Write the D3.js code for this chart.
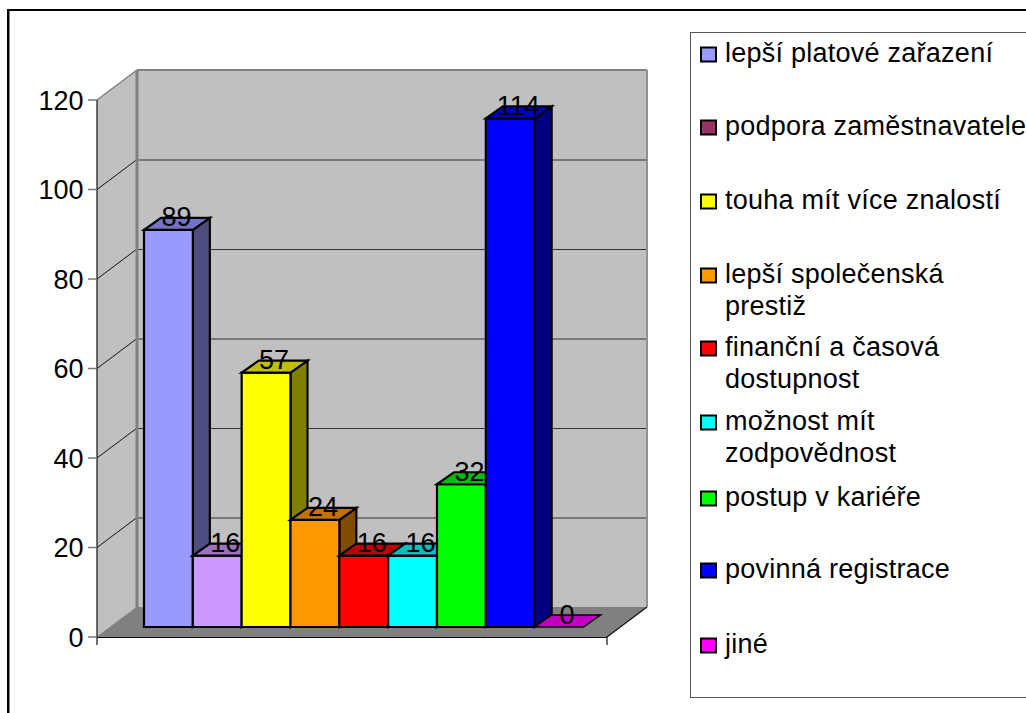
<!DOCTYPE html>
<html><head><meta charset="utf-8">
<script src="https://cdn.jsdelivr.net/npm/d3@7"></script>
<style>html,body{margin:0;padding:0;background:#fff;overflow:hidden}svg{display:block}text{font-family:"Liberation Sans",Arial,sans-serif;fill:#000}</style>
</head><body><svg width="1026" height="713"></svg>
<script>
const categories=["lepší platové zařazení","podpora zaměstnavatele","touha mít více znalostí","lepší společenská prestiž","finanční a časová dostupnost","možnost mít zodpovědnost","postup v kariéře","povinná registrace","jiné"];
const legendLines=[["lepší platové zařazení"],["podpora zaměstnavatele"],["touha mít více znalostí"],["lepší společenská","prestiž"],["finanční a časová","dostupnost"],["možnost mít","zodpovědnost"],["postup v kariéře"],["povinná registrace"],["jiné"]];
const values=[89,16,57,24,16,16,32,114,0];
const barColors=["#9999FF","#CC99FF","#FFFF00","#FF9900","#FF0000","#00FFFF","#00FF00","#0000FF","#FF00FF"];
const legendColors=["#9999FF","#993366","#FFFF00","#FF9900","#FF0000","#00FFFF","#00FF00","#0000FF","#FF00FF"];
const yTicks=[0,20,40,60,80,100,120];
const legendY=[54,127,201,275,348,422,498,570,645];

const svg=d3.select("svg");
svg.append("rect").attr("x",8).attr("y",10).attr("width",1030).attr("height",720).attr("fill","#fff").attr("stroke","#000").attr("stroke-width",2);
svg.append("line").attr("x1",9.5).attr("x2",9.5).attr("y1",11).attr("y2",713).attr("stroke","#808080").attr("stroke-width",1);
const frontY=d3.scaleLinear().domain([0,120]).range([637,100]);
const barY=d3.scaleLinear().domain([0,120]).range([627,91.6]);
const barX=d3.scaleBand().domain(categories).range([144,583.5]);
const D={x:40,y:-30}, d={x:17,y:-12};
const line=d3.line();
const poly=(pts,fill,stroke,sw)=>svg.append("path").attr("d",line(pts)+"Z").attr("fill",fill).attr("stroke",stroke||"none").attr("stroke-width",sw||0).attr("stroke-linejoin","miter");
const seg=(a,b,c,w)=>svg.append("line").attr("x1",a[0]).attr("y1",a[1]).attr("x2",b[0]).attr("y2",b[1]).attr("stroke",c).attr("stroke-width",w);
const xL=97,xR=607,y0=frontY(0),y1=frontY(120);
// walls
poly([[xL+D.x,y1+D.y],[xR+D.x,y1+D.y],[xR+D.x,y0+D.y],[xL+D.x,y0+D.y]],"#C0C0C0");
poly([[xL,y1],[xL+D.x,y1+D.y],[xL+D.x,y0+D.y],[xL,y0]],"#C0C0C0");
poly([[xL,y0],[xR,y0],[xR+D.x,y0+D.y],[xL+D.x,y0+D.y]],"#808080");
yTicks.slice(1,-1).forEach(t=>{const y=frontY(t);
  seg([xL,y],[xL+D.x,y+D.y],"#111",1);
  seg([xL+D.x,y+D.y+.5],[xR+D.x,y+D.y+.5],"#333",1.2);
});
seg([xL+D.x,y1+D.y],[xR+D.x,y1+D.y],"#808080",2);
seg([xL+D.x,y1+D.y],[xL+D.x,y0+D.y],"#808080",3);
seg([xR+D.x,y1+D.y],[xR+D.x,y0+D.y],"#909090",2);
seg([xL,y1],[xL+D.x,y1+D.y],"#808080",1.5);
seg([xL,y0],[xL+D.x,y0+D.y],"#808080",1);
// axes
seg([xL,y1],[xL,645],"#111",1.2);
seg([xL,y0+.5],[xR,y0+.5],"#111",1.2);
seg([xR,y0],[xR+D.x,y0+D.y],"#111",1.2);
seg([xR,y0],[xR,645],"#111",1.2);
yTicks.forEach(t=>{const y=frontY(t);
  seg([88,y],[xL,y],"#777",1.5);
  svg.append("text").attr("x",83.5).attr("y",y+9.5).attr("text-anchor","end").attr("font-size",27).text(t);
});
// bars
const shade=(c,k)=>{const r=d3.rgb(c);return d3.rgb(r.r*k,r.g*k,r.b*k).formatHex();};
values.forEach((v,i)=>{const x=barX(categories[i]),w=barX.bandwidth(),y=barY(v),b=barY(0),c=barColors[i],st="#000",sw=2.2;
  if(v>0){
   poly([[x+w,y],[x+w+d.x,y+d.y],[x+w+d.x,b+d.y],[x+w,b]],shade(c,.5),st,sw);
   poly([[x,y],[x+w,y],[x+w,b],[x,b]],c,st,sw);
   poly([[x,y],[x+d.x,y+d.y],[x+w+d.x,y+d.y],[x+w,y]],shade(c,.75),st,sw);
  } else {
   poly([[x,y],[x+d.x,y+d.y],[x+w+d.x,y+d.y],[x+w,y]],shade(c,.75),st,1.5);
  }
});
values.forEach((v,i)=>{const x=barX(categories[i])+barX.bandwidth()/2+d.x/2-.5;
  svg.append("text").attr("x",x).attr("y",barY(v)-3.5).attr("text-anchor","middle").attr("font-size",27).text(v);
});
// legend
svg.append("rect").attr("x",690.5).attr("y",32.5).attr("width",400).attr("height",665).attr("fill","#fff").attr("stroke","#555").attr("stroke-width",1);
categories.forEach((c,i)=>{const y=legendY[i];
  svg.append("rect").attr("x",701).attr("y",y-6.5).attr("width",15).attr("height",14).attr("fill",legendColors[i]).attr("stroke","#000").attr("stroke-width",2);
  legendLines[i].forEach((l,j)=>svg.append("text").attr("x",725).attr("y",y+8+j*32).attr("font-size",27).attr("letter-spacing",0.25).text(l));
});
</script></body></html>
